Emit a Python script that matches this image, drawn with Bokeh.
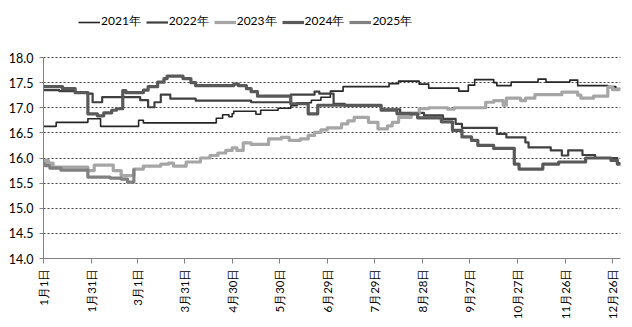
import math
from bokeh.plotting import figure
from bokeh.models import FixedTicker, Legend, LegendItem, PrintfTickFormatter, Range1d
from bokeh.embed import file_html
from bokeh.resources import INLINE

# ---- data (day of year offset, value) ----
series_names = ["2021年", "2022年", "2023年", "2024年", "2025年"]

d2021 = [0, 8, 28, 36, 60, 63, 109, 113, 117, 119, 120, 134, 137, 148, 156, 160, 169, 175, 181, 189,
         218, 224, 237, 243, 262, 268, 272, 284, 286, 295, 312, 317, 332, 337, 356, 361, 364]
v2021 = [16.63, 16.71, 16.78, 16.63, 16.75, 16.70, 16.79, 16.86, 16.82, 16.88, 16.93, 16.87, 16.95, 16.99,
         17.04, 17.10, 17.15, 17.21, 17.33, 17.42, 17.48, 17.53, 17.47, 17.39, 17.33, 17.45, 17.56, 17.50,
         17.44, 17.51, 17.57, 17.51, 17.55, 17.44, 17.42, 17.38, 17.38]

d2022 = [0, 10, 20, 28, 31, 37, 61, 66, 70, 74, 80, 96, 131, 156, 171, 174, 183, 190, 213, 225, 240,
         252, 260, 264, 286, 292, 304, 306, 320, 327, 331, 340, 348, 362, 364]
v2022 = [17.35, 17.33, 17.30, 17.28, 17.11, 17.21, 17.15, 17.01, 17.11, 17.26, 17.18, 17.14, 17.11,
         17.26, 17.32, 17.28, 17.08, 17.04, 16.97, 16.90, 16.85, 16.78, 16.68, 16.60, 16.48, 16.41,
         16.31, 16.21, 16.15, 16.05, 16.15, 16.06, 16.00, 15.90, 15.90]

d2023 = [0, 1, 3, 6, 28, 32, 44, 49, 57, 63, 74, 79, 82, 90, 99, 105, 110, 115, 119, 122, 126, 131,
         142, 150, 155, 162, 167, 171, 175, 179, 188, 192, 196, 205, 211, 217, 220, 224, 232, 237, 243,
         255, 259, 279, 284, 290, 292, 301, 304, 310, 327, 337, 339, 347, 356, 359, 364]
v2023 = [15.90, 15.96, 15.90, 15.82, 15.75, 15.86, 15.75, 15.65, 15.78, 15.84, 15.88, 15.90, 15.84,
         15.92, 16.00, 16.05, 16.10, 16.15, 16.20, 16.15, 16.30, 16.27, 16.38, 16.41, 16.35, 16.38,
         16.45, 16.51, 16.56, 16.60, 16.68, 16.74, 16.81, 16.71, 16.58, 16.64, 16.71, 16.81, 16.88,
         16.98, 17.00, 16.97, 17.00, 17.11, 17.14, 17.05, 17.19, 17.14, 17.19, 17.26, 17.31, 17.25,
         17.19, 17.23, 17.41, 17.36, 17.36]

d2024 = [0, 12, 20, 28, 34, 38, 43, 46, 50, 52, 63, 66, 72, 76, 78, 88, 93, 96, 120, 123, 128, 131,
         135, 156, 167, 173, 213, 223, 236, 251, 258, 264, 270, 274, 284, 297, 300, 315, 325, 342, 358,
         362, 364]
v2024 = [17.42, 17.38, 17.30, 16.88, 16.84, 16.90, 16.95, 16.98, 17.34, 17.30, 17.35, 17.42, 17.51,
         17.58, 17.63, 17.58, 17.50, 17.44, 17.47, 17.44, 17.38, 17.32, 17.23, 17.08, 16.88, 17.05,
         16.95, 16.88, 16.80, 16.72, 16.55, 16.42, 16.35, 16.25, 16.19, 15.88, 15.78, 15.88, 15.92,
         16.00, 15.95, 15.88, 15.85]

d2025 = [0, 1, 4, 11, 28, 42, 49, 53, 57, 58]
v2025 = [15.88, 15.85, 15.80, 15.76, 15.62, 15.60, 15.58, 15.52, 15.76, 15.76]

x_ticks = [0, 30, 59, 89, 119, 149, 179, 209, 239, 269, 299, 329, 359]
x_labels = ["1月1日", "1月31日", "3月1日", "3月31日", "4月30日", "5月30日", "6月29日",
            "7月29日", "8月28日", "9月27日", "10月27日", "11月26日", "12月26日"]
y_ticks = [14.0, 14.5, 15.0, 15.5, 16.0, 16.5, 17.0, 17.5, 18.0]
y_min, y_max = 14.0, 18.0

colors = ["#262626", "#404040", "#a6a6a6", "#595959", "#808080"]
widths = [1.6, 2.2, 3.2, 3.2, 3.2]

FONT = "Lato"

# frame extends above 18.0 to host the legend strip (axis line bounded to 14-18)
p = figure(width=632, height=327, output_backend="svg", toolbar_location=None,
           x_range=Range1d(0, 364), y_range=Range1d(y_min, y_max + 1.035),
           min_border_left=43, min_border_right=12, min_border_top=5, min_border_bottom=69)
p.outline_line_color = None
p.background_fill_color = "white"

p.xgrid.grid_line_color = None
p.ygrid.grid_line_color = "#404040"
p.ygrid.grid_line_dash = "2 2"
p.ygrid.grid_line_width = 1

p.yaxis.ticker = FixedTicker(ticks=y_ticks)
p.yaxis.bounds = (y_min, y_max)
p.yaxis.formatter = PrintfTickFormatter(format="%.1f")
p.yaxis.axis_line_color = "#808080"
p.yaxis.major_tick_line_color = "#808080"
p.yaxis.major_tick_out = 4
p.yaxis.major_tick_in = 0
p.yaxis.minor_tick_line_color = None
p.yaxis.major_label_text_font = FONT
p.yaxis.major_label_text_font_size = "12.5px"
p.yaxis.major_label_text_color = "#000000"
p.yaxis.major_label_standoff = 6

p.xaxis.ticker = FixedTicker(ticks=x_ticks)
p.xaxis.major_label_overrides = {t: l for t, l in zip(x_ticks, x_labels)}
p.xaxis.major_label_orientation = math.pi / 2
p.xaxis.axis_line_color = "#808080"
p.xaxis.major_tick_line_color = "#808080"
p.xaxis.major_tick_out = 5
p.xaxis.major_tick_in = 0
p.xaxis.minor_tick_line_color = None
p.xaxis.major_label_text_font = FONT
p.xaxis.major_label_text_font_size = "11.5px"
p.xaxis.major_label_text_color = "#000000"
p.xaxis.major_label_standoff = 5

data = [(d2021, v2021), (d2022, v2022), (d2023, v2023), (d2024, v2024), (d2025, v2025)]
renderers = []
for (dx, vy), c, w in zip(data, colors, widths):
    r = p.step(dx, vy, mode="after", line_color=c, line_width=w, line_join="round")
    renderers.append(r)

legend = Legend(items=[LegendItem(label=n, renderers=[r]) for n, r in zip(series_names, renderers)],
                orientation="horizontal", location=(33, 226),
                border_line_alpha=0, background_fill_alpha=0,
                glyph_width=22, glyph_height=12, label_standoff=1, spacing=5,
                padding=2, margin=0,
                label_text_font=FONT, label_text_font_size="12px", label_text_color="#000000")
p.add_layout(legend)

open("out.html", "w").write(file_html(p, INLINE))
